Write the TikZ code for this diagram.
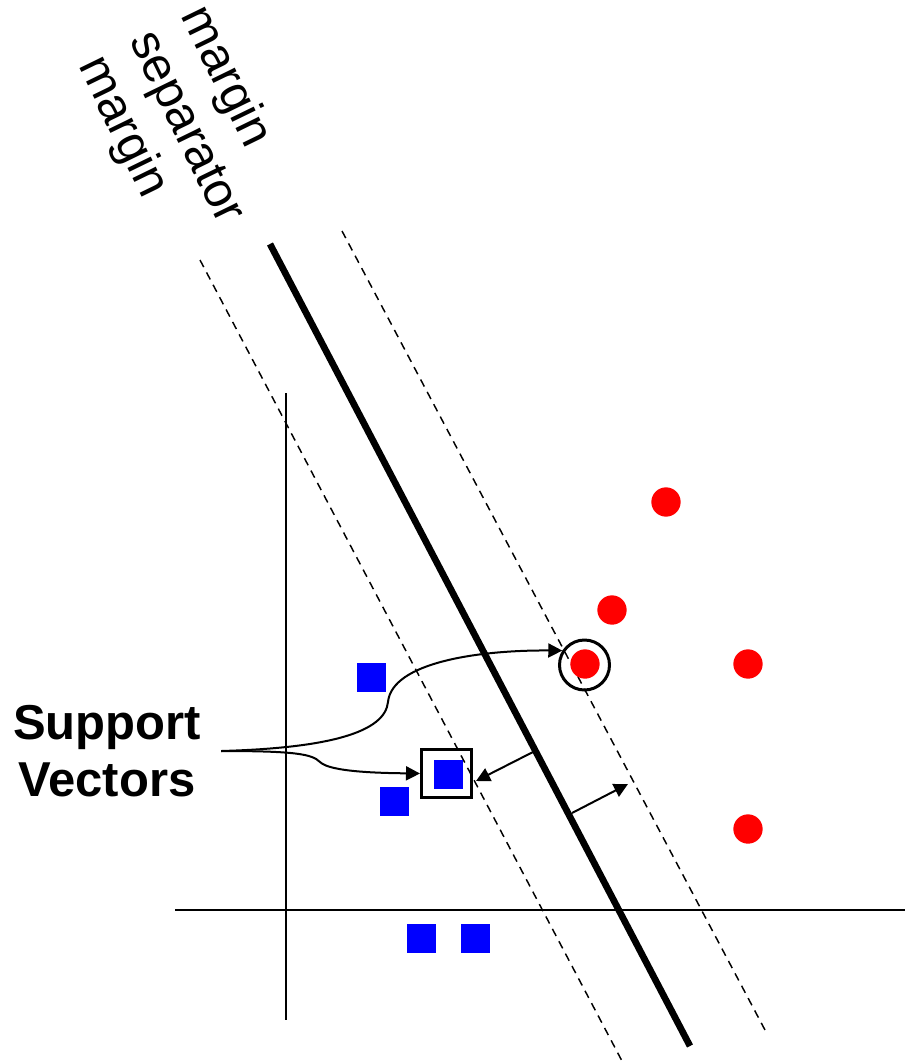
\documentclass[tikz,border=0pt]{standalone}
\usepackage{fontspec}
\setmainfont{Liberation Sans}
\usetikzlibrary{positioning, arrows.meta}
\tikzset{
  sq/.style={rectangle, fill=blue, inner sep=0pt, minimum size=21.75pt},
  dot/.style={circle, fill=red, inner sep=0pt, minimum size=22pt},
  marg/.style={dash pattern=on 6pt off 4.5pt, line width=1.1pt},
  ax/.style={line width=1.5pt},
  sv/.style={line width=1.5pt, -{Triangle[length=10.5pt,width=10.5pt]}},
  big/.style={font=\fontsize{36.75}{42.75}\selectfont},
  bigbf/.style={font=\fontsize{36.75}{42.75}\selectfont\bfseries}}

\begin{document}
\begin{tikzpicture}[x=0.75pt,y=-0.75pt]
  \useasboundingbox (0,0) rectangle (907,1061);
    \coordinate (s1) at (270,244);
    \coordinate (s2) at (690,1046);
    \coordinate (l1) at (200,260);
    \coordinate (l2) at (622,1061);
    \coordinate (r1) at (342,231);
    \coordinate (r2) at (765,1030);
    \coordinate (y1) at (286,393);
    \coordinate (y2) at (286,1020);
    \coordinate (x1) at (175,910);
    \coordinate (x2) at (905,910);
    \coordinate (m1) at (533,752);
    \coordinate (m2) at (476,781);
    \coordinate (m3) at (572,813);
    \coordinate (m4) at (628,784);
  % axes
  \draw [ax] (y1) -- (y2);
  \draw [ax] (x1) -- (x2);
  % separator and margins
  \draw [line width=5pt] (s1) -- (s2);
  \draw [marg] (l1) -- (l2);
  \draw [marg] (r1) -- (r2);
  % points
  \node [sq] (b1) at (371,677) {};
  \node [sq] (b2) at (394,801) {};
  \node [sq] (b3) at (448,774) {};
  \node [sq] (b4) at (421,938) {};
  \node [sq] (b5) at (475,938) {};
  \node [dot] (c1) at (666,502) {};
  \node [dot] (c2) at (612,610) {};
  \node [dot] (c3) at (585,664) {};
  \node [dot] (c4) at (748,664) {};
  \node [dot] (c5) at (748,829) {};
  \node [draw, circle, line width=2.25pt, minimum size=37.5pt] (ring) at (584.5,665) {};
  \node [draw, rectangle, line width=2.25pt, minimum width=37.5pt, minimum height=36pt] (box) at (446.5,773.5) {};
  % labels
  \node [big, rotate=-64, align=left, inner sep=0pt] (lbl) at (186,128) {margin\\separator\\margin};
  \node [bigbf, align=center, inner sep=15pt] (sup) at (107,751) {Support\\Vectors};
  % support vector pointers
  \draw [sv] (sup.east) .. controls (330,748) and (385,732) .. (388,702)
                        .. controls (392,662) and (480,650) .. (ring.147);
  \draw [sv] (sup.east) .. controls (295,751) and (312,754) .. (320,762)
                        .. controls (330,772) and (380,773) .. (box.west);
  % margin widths
  \draw [sv] (m1) -- (m2);
  \draw [sv] (m3) -- (m4);
\end{tikzpicture}
\end{document}
